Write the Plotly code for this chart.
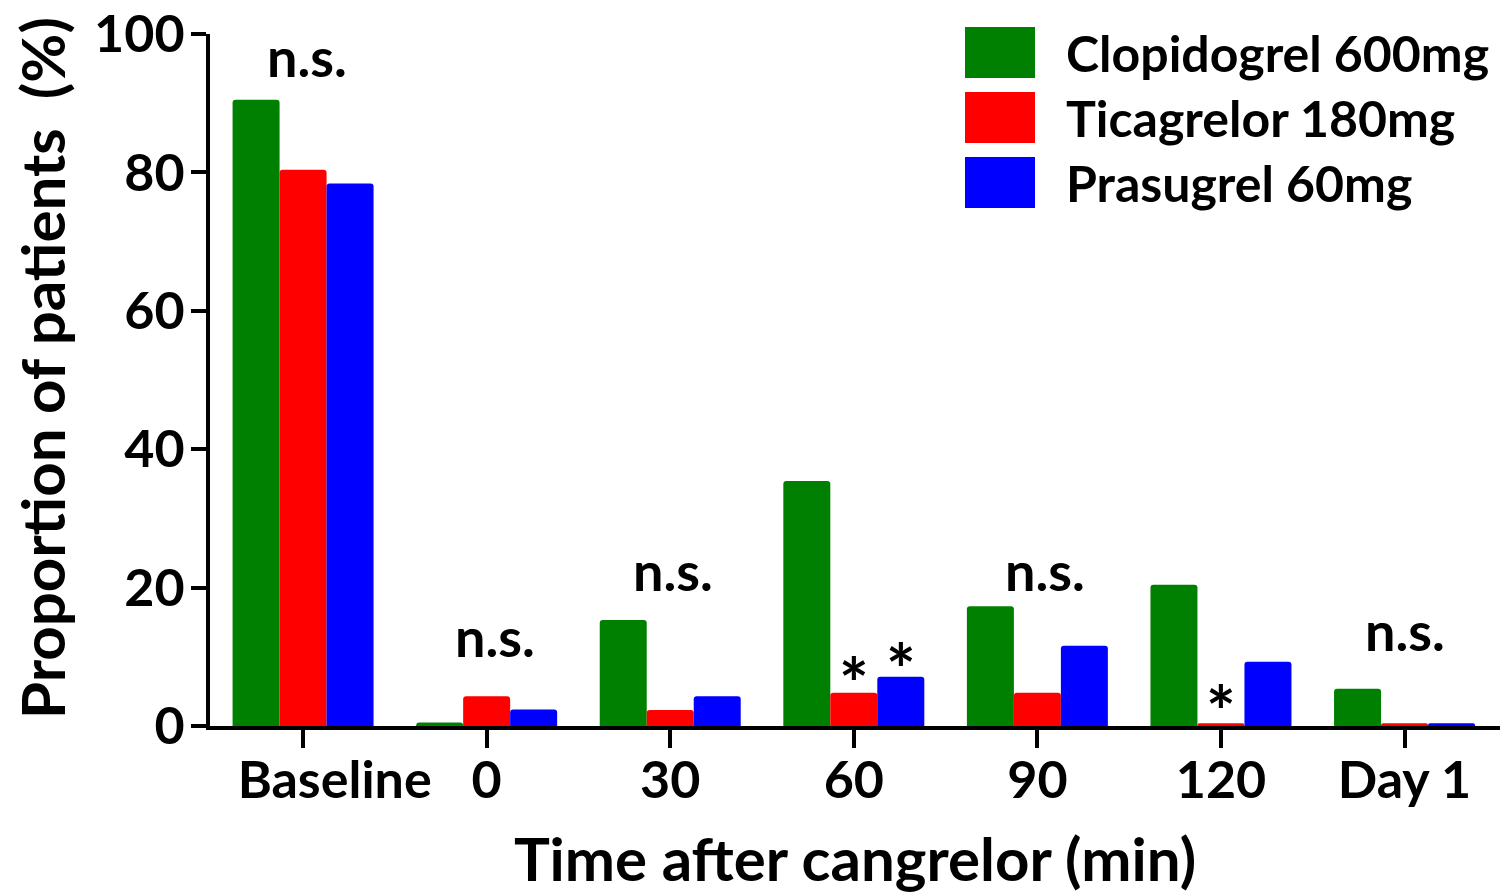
import plotly.graph_objects as go

categories = ["Baseline", "0", "30", "60", "90", "120", "Day 1"]
series_names = ["Clopidogrel 600mg", "Ticagrelor 180mg", "Prasugrel 60mg"]
clopidogrel = [90.5, 0.5, 15.3, 35.4, 17.3, 20.4, 5.4]
ticagrelor = [80.4, 4.3, 2.3, 4.8, 4.8, 0.4, 0.4]
prasugrel = [78.4, 2.4, 4.3, 7.1, 11.6, 9.3, 0.4]
colors = ["#008000", "#ff0000", "#0000ff"]

# significance labels: (category index, x nudge, y position, text) and stars: (category, bar index, y)
ns_labels = [(0, 0.02, 96.8, "n.s."), (1, 0.045, 13.0, "n.s."), (2, 0.016, 22.4, "n.s."),
             (4, 0.04, 22.4, "n.s."), (6, 0.005, 13.8, "n.s.")]
star_labels = [(3, 1, 6.2), (3, 2, 8.2), (5, 1, 2.1)]

FONT = "Lato"
x_idx = list(range(len(categories)))
ticktext = ["&nbsp;" * 5 + categories[0]] + categories[1:]

W, H = 1501, 895
L, R, T, B = 210, 1, 34, 169
PW, PH = W - L - R, H - T - B

def px(xp):  # page x -> paper
    return (xp - L) / PW

def py(yp):  # page y -> paper
    return (H - B - yp) / PH

fig = go.Figure()
for name, vals, col in zip(series_names, [clopidogrel, ticagrelor, prasugrel], colors):
    fig.add_trace(go.Bar(x=x_idx, y=vals, name=name,
                         marker=dict(color=col, line=dict(width=0), cornerradius=3),
                         showlegend=False))

bar_w = (1 - 0.232) / 3
for ci, dx, yv, t in ns_labels:
    fig.add_annotation(x=ci + dx, y=yv, text=t, showarrow=False, xanchor="center", yanchor="middle",
                       font=dict(family=FONT, size=54, color="black", weight="bold"))
for ci, bi, yv in star_labels:
    fig.add_annotation(x=ci + (bi - 1) * bar_w, y=yv, text="*", showarrow=False, xanchor="center", yanchor="middle",
                       font=dict(family=FONT, size=70, color="black", weight="bold"))

# manual legend (large swatches)
for i, (name, col) in enumerate(zip(series_names, colors)):
    top = 27 + 65 * i
    bot = 78 + 65 * i
    fig.add_shape(type="rect", xref="paper", yref="paper", x0=px(965), x1=px(1035),
                  y0=py(bot), y1=py(top), fillcolor=col, line=dict(width=0))
    fig.add_annotation(xref="paper", yref="paper", x=px(1064), y=py((top + bot) / 2),
                       text=name, showarrow=False, xanchor="left", yanchor="middle",
                       font=dict(family=FONT, size=50, color="black", weight="bold"))

# y-axis title
fig.add_annotation(xref="paper", yref="paper", x=px(42), y=py(368), text="Proportion of patients  (%)",
                   textangle=-90, showarrow=False, xanchor="center", yanchor="middle",
                   font=dict(family=FONT, size=60, color="black", weight="bold"))

fig.update_layout(
    width=W, height=H,
    margin=dict(l=L, r=R, t=T, b=B, autoexpand=False),
    paper_bgcolor="white", plot_bgcolor="white",
    barmode="group", bargap=0.232, bargroupgap=0,
    font=dict(family=FONT, color="black", weight="bold"),
    hovermode=False,
)
fig.update_xaxes(
    automargin=False,
    tickmode="array", tickvals=x_idx, ticktext=ticktext,
    range=[-0.507, 6.52],
    showline=True, linecolor="black", linewidth=4,
    ticks="outside", ticklen=18, tickwidth=4, tickcolor="black",
    tickfont=dict(family=FONT, size=52, color="black", weight="bold"),
    ticklabelstandoff=-12,
    showgrid=False, zeroline=False,
    title=dict(text="Time after cangrelor (min)", font=dict(family=FONT, size=60, color="black", weight="bold"), standoff=32),
)
fig.update_yaxes(
    automargin=False,
    range=[0, 100], tickvals=[0, 20, 40, 60, 80, 100],
    showline=True, linecolor="black", linewidth=4,
    ticks="outside", ticklen=15, tickwidth=4, tickcolor="black",
    tickfont=dict(family=FONT, size=52, color="black", weight="bold"),
    ticklabeloverflow="allow", ticklabelstandoff=-4,
    showgrid=False, zeroline=False,
)

fig.write_html("out.html", config={"displayModeBar": False},
               post_script="document.body.style.margin='0';")
